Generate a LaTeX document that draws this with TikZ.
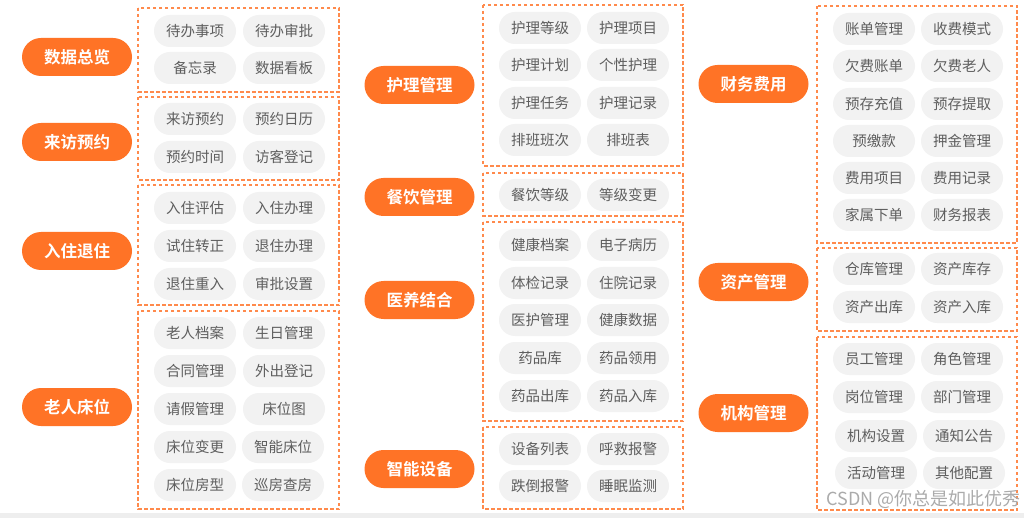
\documentclass[tikz,border=0pt]{standalone}
\usepackage{fontspec}
\newfontfamily\cjk{Noto Sans CJK SC}
\newfontfamily\cjkb{Noto Sans CJK SC Bold}
\definecolor{mainor}{HTML}{FF7326}
\definecolor{dashor}{HTML}{FF8A4C}
\definecolor{subgray}{HTML}{F2F2F2}
\definecolor{subtext}{HTML}{5E5E5E}
\definecolor{barg}{HTML}{EEEEEE}
\definecolor{wm}{HTML}{ABABAB}
\tikzset{
  mainpill/.style={fill=mainor, rounded corners=19pt, minimum width=110pt, minimum height=38pt, inner sep=0pt, text=white, font=\cjkb\fontsize{16.5}{17}\selectfont},
  subpill/.style={fill=subgray, rounded corners=16pt, minimum width=82pt, minimum height=32pt, inner sep=0pt, text=subtext, font=\cjk\fontsize{14.5}{15}\selectfont},
  grp/.style={draw=dashor, line width=1.1pt, dash pattern=on 3.5pt off 2.5pt},
}
\begin{document}
\begin{tikzpicture}[x=1pt,y=-1pt]
\useasboundingbox (0,0) rectangle (1024,518);
\fill[white] (0,0) rectangle (1024,518);
\fill[barg] (0,513) rectangle (1024,518);
% ---------- column 1 ----------
\node[mainpill] (m11) at (77,57) {数据总览};
\node[mainpill] (m12) at (77,142) {来访预约};
\node[mainpill] (m13) at (77,251) {入住退住};
\node[mainpill] (m14) at (77,407) {老人床位};
\draw[grp] (138,8) rectangle (339,92);
\draw[grp] (138,97) rectangle (339,180);
\draw[grp] (138,185) rectangle (339,305);
\draw[grp] (138,311) rectangle (339,509);
\node[subpill] (a1) at (195,31) {待办事项};
\node[subpill] (a2) at (284,31) {待办审批};
\node[subpill] (a3) at (195,68) {备忘录};
\node[subpill] (a4) at (284,68) {数据看板};
\node[subpill] (b1) at (195,119) {来访预约};
\node[subpill] (b2) at (284,119) {预约日历};
\node[subpill] (b3) at (195,157) {预约时间};
\node[subpill] (b4) at (284,157) {访客登记};
\node[subpill] (c1) at (195,208) {入住评估};
\node[subpill] (c2) at (284,208) {入住办理};
\node[subpill] (c3) at (195,246) {试住转正};
\node[subpill] (c4) at (284,246) {退住办理};
\node[subpill] (c5) at (195,284) {退住重入};
\node[subpill] (c6) at (284,284) {审批设置};
\node[subpill] (d1) at (195,333) {老人档案};
\node[subpill] (d2) at (284,333) {生日管理};
\node[subpill] (d3) at (195,371) {合同管理};
\node[subpill] (d4) at (284,371) {外出登记};
\node[subpill] (d5) at (195,409) {请假管理};
\node[subpill] (d6) at (284,409) {床位图};
\node[subpill] (d7) at (195,447) {床位变更};
\node[subpill] (d8) at (283,447) {智能床位};
\node[subpill] (d9) at (195,485) {床位房型};
\node[subpill] (d10) at (283,485) {巡房查房};
% ---------- column 2 ----------
\node[mainpill] (m21) at (419.5,85) {护理管理};
\node[mainpill] (m22) at (419.5,197) {餐饮管理};
\node[mainpill] (m23) at (419.5,300) {医养结合};
\node[mainpill] (m24) at (419.5,469) {智能设备};
\draw[grp] (483,5) rectangle (683,166);
\draw[grp] (483,173) rectangle (683,216);
\draw[grp] (483,222) rectangle (683,421);
\draw[grp] (483,427) rectangle (683,509);
\node[subpill] (e1) at (540,28) {护理等级};
\node[subpill] (e2) at (628,28) {护理项目};
\node[subpill] (e3) at (540,65) {护理计划};
\node[subpill] (e4) at (628,65) {个性护理};
\node[subpill] (e5) at (540,103) {护理任务};
\node[subpill] (e6) at (628,103) {护理记录};
\node[subpill] (e7) at (540,140) {排班班次};
\node[subpill] (e8) at (628,140) {排班表};
\node[subpill] (f1) at (540,195) {餐饮等级};
\node[subpill] (f2) at (628,195) {等级变更};
\node[subpill] (g1) at (540,245) {健康档案};
\node[subpill] (g2) at (628,245) {电子病历};
\node[subpill] (g3) at (540,283) {体检记录};
\node[subpill] (g4) at (628,283) {住院记录};
\node[subpill] (g5) at (540,320) {医护管理};
\node[subpill] (g6) at (628,320) {健康数据};
\node[subpill] (g7) at (540,358) {药品库};
\node[subpill] (g8) at (628,358) {药品领用};
\node[subpill] (g9) at (540,396) {药品出库};
\node[subpill] (g10) at (628,396) {药品入库};
\node[subpill] (h1) at (540,449) {设备列表};
\node[subpill] (h2) at (628,449) {呼救报警};
\node[subpill] (h3) at (540,486) {跌倒报警};
\node[subpill] (h4) at (628,486) {睡眠监测};
% ---------- column 3 ----------
\node[mainpill] (m31) at (753.5,84) {财务费用};
\node[mainpill] (m32) at (753.5,282) {资产管理};
\node[mainpill] (m33) at (753.5,413) {机构管理};
\draw[grp] (817,6) rectangle (1017,243);
\draw[grp] (817,248) rectangle (1017,331);
\draw[grp] (817,337) rectangle (1017,510);
\node[subpill] (i1) at (874,29) {账单管理};
\node[subpill] (i2) at (962,29) {收费模式};
\node[subpill] (i3) at (874,66) {欠费账单};
\node[subpill] (i4) at (962,66) {欠费老人};
\node[subpill] (i5) at (874,104) {预存充值};
\node[subpill] (i6) at (962,104) {预存提取};
\node[subpill] (i7) at (874,141) {预缴款};
\node[subpill] (i8) at (962,141) {押金管理};
\node[subpill] (i9) at (874,178) {费用项目};
\node[subpill] (i10) at (962,178) {费用记录};
\node[subpill] (i11) at (874,215) {家属下单};
\node[subpill] (i12) at (962,215) {财务报表};
\node[subpill] (j1) at (874,269) {仓库管理};
\node[subpill] (j2) at (962,269) {资产库存};
\node[subpill] (j3) at (874,307) {资产出库};
\node[subpill] (j4) at (962,307) {资产入库};
\node[subpill] (k1) at (874,359) {员工管理};
\node[subpill] (k2) at (962,359) {角色管理};
\node[subpill] (k3) at (874,397) {岗位管理};
\node[subpill] (k4) at (962,397) {部门管理};
\node[subpill] (k5) at (876,436) {机构设置};
\node[subpill] (k6) at (964,436) {通知公告};
\node[subpill] (k7) at (876,473) {活动管理};
\node[subpill] (k8) at (964,473) {其他配置};
% watermark
\node[anchor=east, inner sep=0pt, text=wm, font=\cjk\fontsize{18}{18}\selectfont] (wmk) at (1021,499) {CSDN @你总是如此优秀};
\end{tikzpicture}
\end{document}
